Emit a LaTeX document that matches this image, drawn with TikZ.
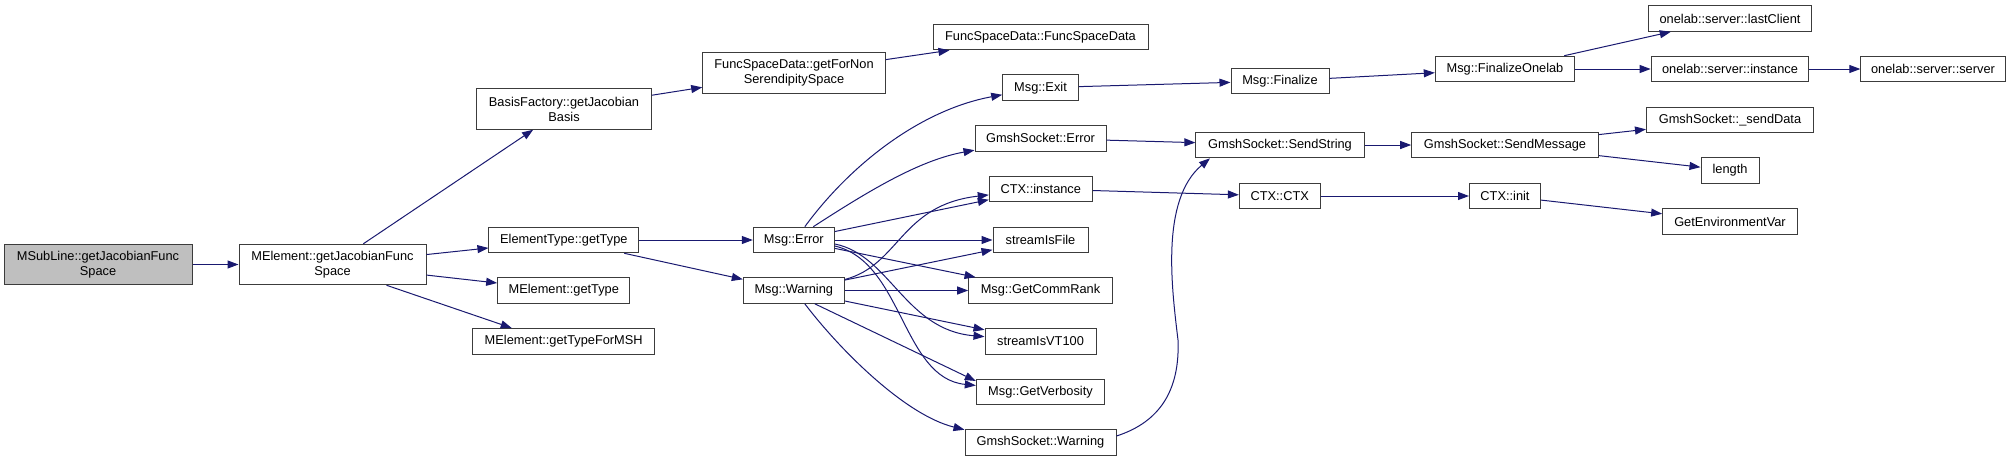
\documentclass[tikz,border=0pt]{standalone}
\usepackage{fontspec}
\setmainfont{Liberation Sans}
\usetikzlibrary{arrows.meta,calc}
\definecolor{edgeblue}{RGB}{25,25,112}
\definecolor{rootgray}{RGB}{191,191,191}
\definecolor{boxline}{RGB}{60,60,60}
\begin{document}
\begin{tikzpicture}[x=1pt,y=-1pt,
  nbox/.style={draw=boxline, line width=1pt, fill=white, inner sep=0pt, align=center,
    font=\fontsize{12.8}{15}\selectfont, minimum height=25.6pt},
  tall/.style={minimum height=40.5pt},
  edge/.style={draw=edgeblue, line width=1pt, -{Triangle[length=11pt,width=8pt]}},
]
\useasboundingbox (0,0) rectangle (2011,461);

% nodes
\node[nbox, tall, fill=rootgray, minimum width=188pt] (msub) at (98,264.5) {MSubLine::getJacobianFunc\\Space};
\node[nbox, tall, minimum width=187pt] (mjac) at (332.5,264.5) {MElement::getJacobianFunc\\Space};
\node[nbox, tall, minimum width=174.5pt] (basis) at (564,109) {BasisFactory::getJacobian\\Basis};
\node[nbox, tall, minimum width=182.6pt] (getfor) at (794,73) {FuncSpaceData::getForNon\\SerendipitySpace};
\node[nbox, minimum width=215pt] (fsd) at (1040.5,37) {FuncSpaceData::FuncSpaceData};
\node[nbox, minimum width=75.6pt] (exit) at (1040.5,87.7) {Msg::Exit};
\node[nbox, minimum width=131pt] (gerr) at (1040.5,138.3) {GmshSocket::Error};
\node[nbox, minimum width=103pt] (ctxinst) at (1040.8,189) {CTX::instance};
\node[nbox, minimum width=149.7pt] (etype) at (563.8,240) {ElementType::getType};
\node[nbox, minimum width=132.3pt] (mgettype) at (563.8,290.5) {MElement::getType};
\node[nbox, minimum width=182pt] (msh) at (563.7,341.3) {MElement::getTypeForMSH};
\node[nbox, minimum width=81pt] (merr) at (793.8,240) {Msg::Error};
\node[nbox, minimum width=101pt] (mwarn) at (793.8,290.5) {Msg::Warning};
\node[nbox, minimum width=95pt] (sfile) at (1040.5,240) {streamIsFile};
\node[nbox, minimum width=143.6pt] (rank) at (1040.5,290.5) {Msg::GetCommRank};
\node[nbox, minimum width=111pt] (vt100) at (1040.5,341.3) {streamIsVT100};
\node[nbox, minimum width=128.4pt] (verb) at (1040.5,392) {Msg::GetVerbosity};
\node[nbox, minimum width=151pt] (gwarn) at (1040.5,442.5) {GmshSocket::Warning};
\node[nbox, minimum width=98pt] (final) at (1280,81) {Msg::Finalize};
\node[nbox, minimum width=168.3pt] (sstr) at (1280,145) {GmshSocket::SendString};
\node[nbox, minimum width=80.7pt] (ctxctx) at (1279.7,196) {CTX::CTX};
\node[nbox, minimum width=139.4pt] (fonelab) at (1505,69) {Msg::FinalizeOnelab};
\node[nbox, minimum width=186.6pt] (smsg) at (1505,145) {GmshSocket::SendMessage};
\node[nbox, minimum width=71pt] (ctxinit) at (1505,196) {CTX::init};
\node[nbox, minimum width=162.6pt] (lastc) at (1730,18.5) {onelab::server::lastClient};
\node[nbox, minimum width=157.7pt] (oinst) at (1730,69) {onelab::server::instance};
\node[nbox, minimum width=144.3pt] (oserv) at (1933,69) {onelab::server::server};
\node[nbox, minimum width=167pt] (sdata) at (1730,120) {GmshSocket::\_sendData};
\node[nbox, minimum width=58pt] (length) at (1730,170.5) {length};
\node[nbox, minimum width=134.7pt] (genv) at (1730,221.5) {GetEnvironmentVar};

% edges
\draw[edge] (msub) -- (mjac);
\draw[edge] (mjac) -- (basis);
\draw[edge] (mjac) -- (etype);
\draw[edge] (mjac) -- (mgettype);
\draw[edge] ($(mjac.south)+(54,0)$) -- ($(msh.north)+(-52,0)$);
\draw[edge] (basis) -- (getfor);
\draw[edge] (getfor) -- (fsd);
\draw[edge] (etype) -- (merr);
\draw[edge] (etype) -- (mwarn);
\draw[edge] ($(merr.north)+(11,0)$) .. controls (850,165) and (920,110) .. (exit);
\draw[edge] ($(merr.north)+(19.5,0)$) .. controls (870,190) and (920,160) .. (gerr);
\draw[edge] (merr) -- (ctxinst);
\draw[edge] (merr) -- (sfile);
\draw[edge] (merr) -- (rank);
\draw[edge] ($(merr.east)+(0,4)$) .. controls (890,255) and (905,330) .. (vt100);
\draw[edge] ($(merr.east)+(0,6)$) .. controls (903,262) and (902,378) .. (verb);
\draw[edge] ($(mwarn.north east)+(0,2.3)$) .. controls (900,265) and (900,205) .. (ctxinst);
\draw[edge] (mwarn) -- (sfile);
\draw[edge] (mwarn) -- (rank);
\draw[edge] (mwarn) -- (vt100);
\draw[edge] ($(mwarn.south)+(21,0)$) -- ($(verb.west)+(0,-11)$);
\draw[edge] ($(mwarn.south)+(11,0)$) .. controls (840,350) and (905,415) .. ($(gwarn.north west)+(0,0.5)$);
\draw[edge] (exit) -- (final);
\draw[edge] (gerr) -- (sstr);
\draw[edge] (ctxinst) -- (ctxctx);
\draw[edge] ($(gwarn.east)+(0,-6.5)$) .. controls (1160,422) and (1180,390) .. (1178,340)
  .. controls (1172,290) and (1160,200) .. ($(sstr.south)+(-70,0)$);
\draw[edge] (final) -- (fonelab);
\draw[edge] (sstr) -- (smsg);
\draw[edge] (ctxctx) -- (ctxinit);
\draw[edge] (fonelab) -- (lastc);
\draw[edge] (fonelab) -- (oinst);
\draw[edge] (oinst) -- (oserv);
\draw[edge] (smsg) -- (sdata);
\draw[edge] (smsg) -- (length);
\draw[edge] (ctxinit) -- (genv);
\end{tikzpicture}
\end{document}
